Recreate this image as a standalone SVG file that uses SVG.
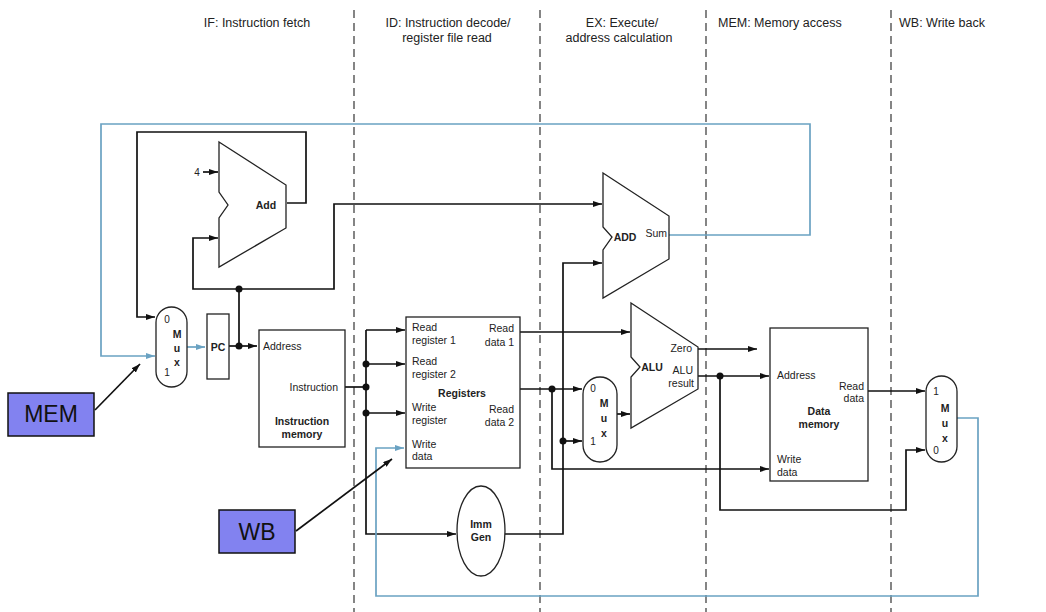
<svg xmlns="http://www.w3.org/2000/svg" width="1046" height="612" viewBox="0 0 1046 612">
<style>
text{font-family:"Liberation Sans",Arial,sans-serif;fill:#222}
.hd{font-size:12.5px}
.t{font-size:10.5px}
.b{font-size:10.5px;font-weight:bold}
.m{font-size:10.5px;font-weight:bold}
.n{font-size:10px}
.big{font-size:23px;fill:#111}
.box{fill:#fff;stroke:#222;stroke-width:1.3}
.w{fill:none;stroke:#111;stroke-width:1.7}
.bl{fill:none;stroke:#6aa2c2;stroke-width:1.7}
.dash{stroke:#444;stroke-width:1.3;stroke-dasharray:8 5}
.dot{fill:#111}
.lab{fill:#8282f0;stroke:#111;stroke-width:1.5}
</style>
<defs>
<marker id="ah" viewBox="0 0 9 6" refX="9" refY="3" markerWidth="9" markerHeight="6" markerUnits="userSpaceOnUse" orient="auto"><path d="M0,0 L9,3 L0,6 z" fill="#111"/></marker>
<marker id="ahb" viewBox="0 0 9 6" refX="9" refY="3" markerWidth="9" markerHeight="6" markerUnits="userSpaceOnUse" orient="auto"><path d="M0,0 L9,3 L0,6 z" fill="#6aa2c2"/></marker>
</defs>
<rect width="1046" height="612" fill="#fff"/>

<g id="stages">
<line class="dash" x1="354" y1="10" x2="354" y2="612"/>
<line class="dash" x1="540" y1="10" x2="540" y2="612"/>
<line class="dash" x1="706" y1="10" x2="706" y2="612"/>
<line class="dash" x1="891" y1="10" x2="891" y2="612"/>
<text class="hd" x="257" y="26.5" text-anchor="middle">IF: Instruction fetch</text>
<text class="hd" x="448" y="26.5" text-anchor="middle">ID: Instruction decode/</text>
<text class="hd" x="447" y="42" text-anchor="middle">register file read</text>
<text class="hd" x="622" y="26.5" text-anchor="middle">EX: Execute/</text>
<text class="hd" x="619" y="42" text-anchor="middle">address calculation</text>
<text class="hd" x="718" y="26.5">MEM: Memory access</text>
<text class="hd" x="899" y="26.5">WB: Write back</text>
</g>

<g id="connectors">
<path class="w" d="M287,203 H306 V132 H137 V317 H155" marker-end="url(#ah)"/>
<path class="bl" d="M669,235 H810 V124 H101 V356 H155" marker-end="url(#ahb)"/>
<path class="bl" d="M187,347 H205" marker-end="url(#ahb)"/>
<path class="w" d="M229,346 H257" marker-end="url(#ah)"/>
<path class="w" d="M239,346 V289"/>
<path class="w" d="M239,289 H193 V238 H218" marker-end="url(#ah)"/>
<path class="w" d="M239,289 H334 V204 H602" marker-end="url(#ah)"/>
<path class="w" d="M203,172 H218" marker-end="url(#ah)"/>
<path class="w" d="M345,387 H366"/>
<path class="w" d="M366,330 V534 H456" marker-end="url(#ah)"/>
<path class="w" d="M366,330 H405" marker-end="url(#ah)"/>
<path class="w" d="M366,364 H405" marker-end="url(#ah)"/>
<path class="w" d="M366,413 H405" marker-end="url(#ah)"/>
<path class="w" d="M520,332 H630" marker-end="url(#ah)"/>
<path class="w" d="M520,389 H582" marker-end="url(#ah)"/>
<path class="w" d="M552,389 V469 H769" marker-end="url(#ah)"/>
<path class="w" d="M505,534 H563 V263 H602" marker-end="url(#ah)"/>
<path class="w" d="M563,441 H582" marker-end="url(#ah)"/>
<path class="w" d="M617,414 H630" marker-end="url(#ah)"/>
<path class="w" d="M698,349 H757" marker-end="url(#ah)"/>
<path class="w" d="M698,376 H769" marker-end="url(#ah)"/>
<path class="w" d="M720,376 V510 H906 V450 H925" marker-end="url(#ah)"/>
<path class="w" d="M868,391 H925" marker-end="url(#ah)"/>
<path class="bl" d="M957,418 H978 V596 H376 V448 H404" marker-end="url(#ahb)"/>
<path class="w" d="M95,410 L140,364" marker-end="url(#ah)"/>
<path class="w" d="M296,531 L392,459" marker-end="url(#ah)"/>
<circle class="dot" cx="239" cy="346" r="3.5"/>
<circle class="dot" cx="239" cy="289" r="3.5"/>
<circle class="dot" cx="366" cy="364" r="3.5"/>
<circle class="dot" cx="366" cy="387" r="3.5"/>
<circle class="dot" cx="366" cy="413" r="3.5"/>
<circle class="dot" cx="552" cy="389" r="3.5"/>
<circle class="dot" cx="563" cy="441" r="3.5"/>
<circle class="dot" cx="720" cy="376" r="3.5"/>
</g>

<g id="pc-mux">
<rect class="box" x="156" y="307" width="31" height="80" rx="15.5"/>
<text class="n" x="167" y="323" text-anchor="middle">0</text>
<text class="m" x="177" y="338" text-anchor="middle">M</text>
<text class="m" x="177" y="352" text-anchor="middle">u</text>
<text class="m" x="177" y="366" text-anchor="middle">x</text>
<text class="n" x="167" y="376" text-anchor="middle">1</text>
</g>

<g id="pc">
<rect class="box" x="207" y="314" width="22" height="65"/>
<text class="b" x="218" y="351" text-anchor="middle">PC</text>
</g>

<g id="add-pc">
<path class="box" d="M219,142 L286,185 L286,228 L219,267 L219,218 L228,205 L219,192 Z"/>
<text class="b" x="266" y="209" text-anchor="middle">Add</text>
<text class="n" x="197" y="175.5" text-anchor="middle">4</text>
</g>

<g id="instruction-memory">
<rect class="box" x="259" y="330" width="86" height="117"/>
<text class="t" x="263" y="350">Address</text>
<text class="t" x="338" y="391" text-anchor="end">Instruction</text>
<text class="b" x="302" y="425" text-anchor="middle">Instruction</text>
<text class="b" x="302" y="438" text-anchor="middle">memory</text>
</g>

<g id="registers">
<rect class="box" x="406" y="317" width="114" height="151"/>
<text class="t" x="412" y="331">Read</text>
<text class="t" x="412" y="344">register 1</text>
<text class="t" x="412" y="365">Read</text>
<text class="t" x="412" y="378">register 2</text>
<text class="t" x="412" y="411">Write</text>
<text class="t" x="412" y="424">register</text>
<text class="t" x="412" y="448">Write</text>
<text class="t" x="412" y="460">data</text>
<text class="t" x="514" y="332" text-anchor="end">Read</text>
<text class="t" x="514" y="346" text-anchor="end">data 1</text>
<text class="b" x="462" y="397" text-anchor="middle">Registers</text>
<text class="t" x="514" y="413" text-anchor="end">Read</text>
<text class="t" x="514" y="426" text-anchor="end">data 2</text>
</g>

<g id="imm-gen">
<ellipse class="box" cx="481" cy="531" rx="24" ry="45"/>
<text class="b" x="481" y="528" text-anchor="middle">Imm</text>
<text class="b" x="481" y="541" text-anchor="middle">Gen</text>
</g>

<g id="add-branch">
<path class="box" d="M603,173 L669,216 L669,259 L603,298 L603,250 L612,237 L603,227 Z"/>
<text class="b" x="625" y="241" text-anchor="middle">ADD</text>
<text class="t" x="667" y="237" text-anchor="end">Sum</text>
</g>

<g id="alu-mux">
<rect class="box" x="583" y="377" width="34" height="85" rx="17"/>
<text class="n" x="593" y="392" text-anchor="middle">0</text>
<text class="m" x="604" y="407" text-anchor="middle">M</text>
<text class="m" x="604" y="422" text-anchor="middle">u</text>
<text class="m" x="604" y="437" text-anchor="middle">x</text>
<text class="n" x="593" y="445" text-anchor="middle">1</text>
</g>

<g id="alu">
<path class="box" d="M631,303 L698,347 L698,389 L631,428 L631,377 L640,367 L631,357 Z"/>
<text class="b" x="652" y="371" text-anchor="middle">ALU</text>
<text class="t" x="692" y="352" text-anchor="end">Zero</text>
<text class="t" x="693" y="374" text-anchor="end">ALU</text>
<text class="t" x="694" y="387" text-anchor="end">result</text>
</g>

<g id="data-memory">
<rect class="box" x="770" y="328" width="98" height="153"/>
<text class="t" x="777" y="379">Address</text>
<text class="t" x="864" y="390" text-anchor="end">Read</text>
<text class="t" x="864" y="402" text-anchor="end">data</text>
<text class="b" x="819" y="415" text-anchor="middle">Data</text>
<text class="b" x="819" y="428" text-anchor="middle">memory</text>
<text class="t" x="777" y="463">Write</text>
<text class="t" x="777" y="476">data</text>
</g>

<g id="wb-mux">
<rect class="box" x="926" y="376" width="31" height="86" rx="15.5"/>
<text class="n" x="936" y="395" text-anchor="middle">1</text>
<text class="m" x="945" y="412" text-anchor="middle">M</text>
<text class="m" x="945" y="427" text-anchor="middle">u</text>
<text class="m" x="945" y="442" text-anchor="middle">x</text>
<text class="n" x="936" y="454" text-anchor="middle">0</text>
</g>

<g id="mem-label">
<rect class="lab" x="8" y="393" width="86" height="43"/>
<text class="big" x="51" y="422" text-anchor="middle">MEM</text>
</g>

<g id="wb-label">
<rect class="lab" x="219" y="510" width="76" height="43"/>
<text class="big" x="257" y="540" text-anchor="middle">WB</text>
</g>
</svg>
